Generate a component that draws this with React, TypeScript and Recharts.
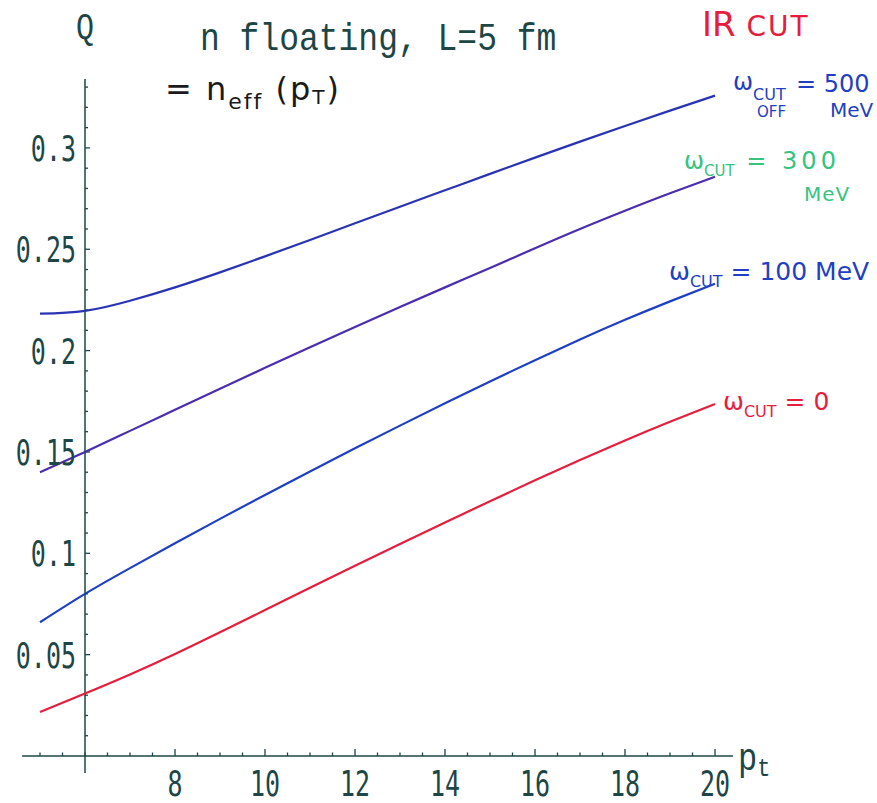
import React from 'react';
import { LineChart, Line, XAxis, YAxis, ReferenceLine, ReferenceDot } from 'recharts';

// transverse momentum p_t (GeV)
const PT = [5, 6, 7, 8, 9, 10, 11, 12, 13, 14, 15, 16, 17, 18, 19, 20];

// Q(p_t) for different infrared cut-off energies
const Q_CUT_0 = [0.0217, 0.0308, 0.0402, 0.0503, 0.061, 0.072, 0.083, 0.0939, 0.1046, 0.1152, 0.1257, 0.136, 0.146, 0.1557, 0.1649, 0.1737];
const Q_CUT_100 = [0.066, 0.080, 0.0927, 0.105, 0.117, 0.1288, 0.1404, 0.1518, 0.163, 0.174, 0.1848, 0.1953, 0.2055, 0.2152, 0.2243, 0.233];
const Q_CUT_300 = [0.140, 0.150, 0.1604, 0.1708, 0.1812, 0.1915, 0.2017, 0.2117, 0.2215, 0.2312, 0.2408, 0.2505, 0.26, 0.269, 0.2776, 0.2858];
const Q_CUT_500 = [0.2182, 0.2196, 0.2246, 0.2312, 0.2386, 0.2465, 0.2546, 0.2628, 0.271, 0.2791, 0.2872, 0.2952, 0.3031, 0.3108, 0.3184, 0.3258];

// axis ticks
const X_TICKS = [5, 5.5, 6, 6.5, 7, 7.5, 8, 8.5, 9, 9.5, 10, 10.5, 11, 11.5, 12, 12.5, 13, 13.5, 14, 14.5, 15, 15.5, 16, 16.5, 17, 17.5, 18, 18.5, 19, 19.5, 20];
const X_LABEL_TICKS = [8, 10, 12, 14, 16, 18, 20];
const Y_MINOR_TICKS = [0.01, 0.02, 0.03, 0.04, 0.06, 0.07, 0.08, 0.09, 0.11, 0.12, 0.13, 0.14, 0.16, 0.17, 0.18, 0.19, 0.21, 0.22, 0.23, 0.24, 0.26, 0.27, 0.28, 0.29, 0.31, 0.32, 0.33];
const Y_LABEL_TICKS = [0.05, 0.1, 0.15, 0.2, 0.25, 0.3];
const Y_LABELS = ['0.05', '0.1', '0.15', '0.2', '0.25', '0.3'];
const Y_AXIS_AT = 6;

const AXIS = '#1d4646';
const RED = '#e61d3d';
const BLUE = '#1f3fc4';
const DEEP_BLUE = '#2a33b4';
const VIOLET = '#4a2db0';
const GREEN = '#36c37e';
const MONO = '"DejaVu Sans Mono", monospace';
const COURIER = '"Liberation Mono", "Courier New", monospace';
const HAND = '"DejaVu Sans", sans-serif';

const rows = PT.map((pt, i) => ({
  pt,
  c0: Q_CUT_0[i],
  c100: Q_CUT_100[i],
  c300: Q_CUT_300[i],
  c500: Q_CUT_500[i],
}));

const last = PT.length - 1;

function XTick(props: any) {
  const { x, y, payload } = props;
  const v = payload.value;
  const major = X_LABEL_TICKS.includes(v);
  return (
    <g>
      <line x1={x} x2={x} y1={y} y2={y - (major ? 7 : 3.5)} stroke={AXIS} strokeWidth={1.3} />
      {major && (
        <text
          transform={`translate(${x},${y + 40}) scale(1,1.4)`}
          textAnchor="middle"
          fontFamily={MONO}
          fontSize={25}
          fill={AXIS}
        >
          {v}
        </text>
      )}
    </g>
  );
}

function Sub({ main, sub, size, subSize, color, x, y, rest, spacing = 0 }: any) {
  return (
    <text x={x} y={y} fill={color} fontFamily={HAND} fontSize={size}>
      {main}
      <tspan fontSize={subSize} dy={7}>{sub}</tspan>
      <tspan dy={-7} letterSpacing={spacing}>{rest}</tspan>
    </text>
  );
}

export default function App() {
  return (
    <div style={{ position: 'absolute', left: 0, top: 0, background: '#fff' }}>
      <LineChart
        width={877}
        height={803}
        data={rows}
        margin={{ top: 79, right: 144, bottom: 7, left: 22 }}
      >
        <XAxis
          dataKey="pt"
          type="number"
          domain={[4.6, 20.4]}
          ticks={X_TICKS}
          interval={0}
          tick={XTick}
          tickLine={false}
          tickSize={0}
          tickMargin={0}
          axisLine={{ stroke: AXIS, strokeWidth: 1.5 }}
          height={40}
          allowDataOverflow
        />
        <YAxis type="number" domain={[0, 0.334]} hide allowDataOverflow />

        {/* vertical axis drawn at p_t = 6, running a little past the horizontal axis */}
        <ReferenceLine
          x={Y_AXIS_AT}
          ifOverflow="visible"
          shape={(p: any) => (
            <line
              x1={p.x1}
              x2={p.x2}
              y1={Math.min(p.y1, p.y2)}
              y2={Math.max(p.y1, p.y2) + 17}
              stroke={AXIS}
              strokeWidth={1.5}
            />
          )}
        />
        {Y_MINOR_TICKS.map((v) => (
          <ReferenceDot
            key={`m${v}`}
            x={Y_AXIS_AT}
            y={v}
            r={0}
            shape={(p: any) => (
              <line x1={p.cx} x2={p.cx + 3} y1={p.cy} y2={p.cy} stroke={AXIS} strokeWidth={1.3} />
            )}
          />
        ))}
        {Y_LABEL_TICKS.map((v, i) => (
          <ReferenceDot
            key={`M${v}`}
            x={Y_AXIS_AT}
            y={v}
            r={0}
            shape={(p: any) => (
              <g>
                <line x1={p.cx} x2={p.cx + 5} y1={p.cy} y2={p.cy} stroke={AXIS} strokeWidth={1.3} />
                <text
                  transform={`translate(${p.cx - 9},${p.cy + 13}) scale(1,1.45)`}
                  textAnchor="end"
                  fontFamily={MONO}
                  fontSize={25}
                  fill={AXIS}
                >
                  {Y_LABELS[i]}
                </text>
              </g>
            )}
          />
        ))}

        <Line dataKey="c500" type="natural" stroke={DEEP_BLUE} strokeWidth={2.2} dot={false} isAnimationActive={false} />
        <Line dataKey="c300" type="natural" stroke={VIOLET} strokeWidth={2.2} dot={false} isAnimationActive={false} />
        <Line dataKey="c100" type="natural" stroke={BLUE} strokeWidth={2.2} dot={false} isAnimationActive={false} />
        <Line dataKey="c0" type="natural" stroke={RED} strokeWidth={2.2} dot={false} isAnimationActive={false} />

        {/* curve annotations, placed from each curve's end point */}
        <ReferenceDot
          x={PT[last]}
          y={Q_CUT_500[last]}
          r={0}
          shape={(p: any) => (
            <g fill={BLUE} fontFamily={HAND}>
              <text x={p.cx + 18} y={p.cy - 6} fontSize={24}>ω</text>
              <text x={p.cx + 38} y={p.cy + 4} fontSize={16}>CUT</text>
              <text x={p.cx + 42} y={p.cy + 21} fontSize={15}>OFF</text>
              <text x={p.cx + 81} y={p.cy - 4} fontSize={24}>= 500</text>
              <text x={p.cx + 115} y={p.cy + 21} fontSize={20}>MeV</text>
            </g>
          )}
        />
        <ReferenceDot
          x={PT[last]}
          y={Q_CUT_300[last]}
          r={0}
          shape={(p: any) => (
            <g fill={GREEN} fontFamily={HAND}>
              <Sub x={p.cx - 31} y={p.cy - 8} main="ω" sub="CUT" rest=" = 300" size={24} subSize={15} color={GREEN} spacing={4} />
              <text x={p.cx + 89} y={p.cy + 24} fontSize={20} letterSpacing={1}>MeV</text>
            </g>
          )}
        />
        <ReferenceDot
          x={PT[last]}
          y={Q_CUT_100[last]}
          r={0}
          shape={(p: any) => (
            <Sub x={p.cx - 46} y={p.cy - 4} main="ω" sub="CUT" rest=" = 100 MeV" size={25} subSize={16} color={BLUE} />
          )}
        />
        <ReferenceDot
          x={PT[last]}
          y={Q_CUT_0[last]}
          r={0}
          shape={(p: any) => (
            <Sub x={p.cx + 8} y={p.cy + 6} main="ω" sub="CUT" rest=" = 0" size={25} subSize={16} color={RED} />
          )}
        />

        {/* titles and axis names */}
        <text transform="translate(85,38) scale(1,1.2)" textAnchor="middle" fontFamily={COURIER} fontSize={30} fill={AXIS}>
          Q
        </text>
        <text transform="translate(200,50) scale(1,1.2)" fontFamily={COURIER} fontSize={33} fill={AXIS}>
          n floating, L=5 fm
        </text>
        <text x={165} y={100} fontFamily={HAND} fontSize={32} fill="#1a1a1a" letterSpacing={2}>
          = n<tspan fontSize={22} dy={9}>eff</tspan>
          <tspan dy={-9}> (p</tspan>
          <tspan fontSize={20} dy={4}>T</tspan>
          <tspan dy={-4}>)</tspan>
        </text>
        <text x={702} y={36} fontFamily={HAND} fill={RED}>
          <tspan fontSize={34}>IR</tspan>
          <tspan fontSize={28} letterSpacing={2}> CUT</tspan>
        </text>
        <text transform="translate(738,770) scale(1,1.2)" fontFamily={COURIER} fontSize={32} fill={AXIS}>
          p<tspan fontSize={22} dy={5}>t</tspan>
        </text>
      </LineChart>
    </div>
  );
}
